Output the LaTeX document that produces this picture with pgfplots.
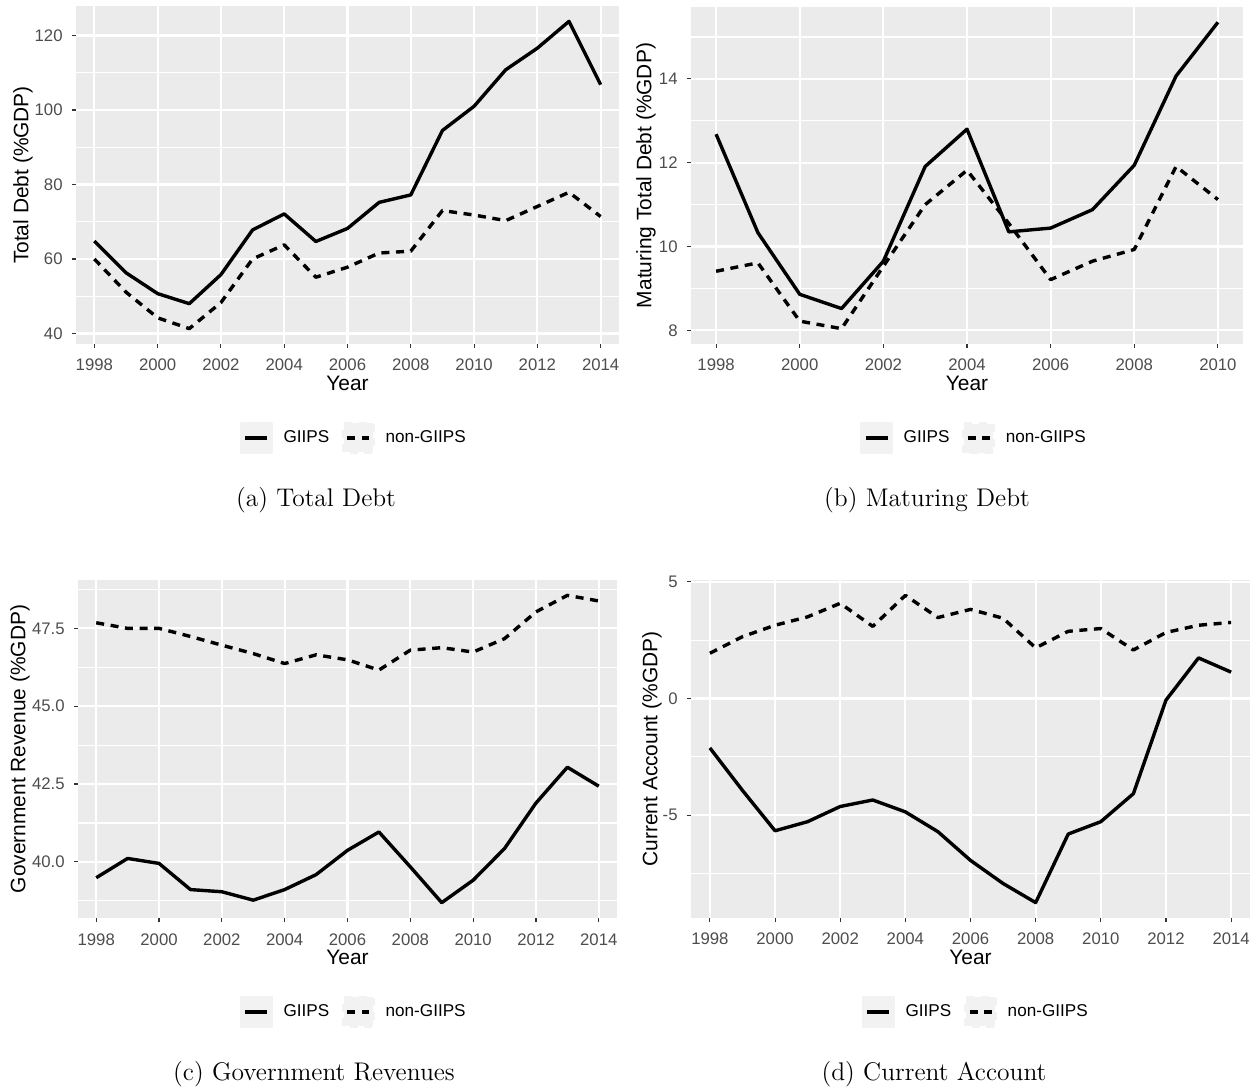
\documentclass[border=0pt]{standalone}
\usepackage{fontspec}
\newfontfamily\ggfont{Liberation Sans}
\usepackage{pgfplots}
\pgfplotsset{compat=1.18}
\definecolor{ggbg}{HTML}{EBEBEB}
\definecolor{ggtext}{HTML}{4D4D4D}
\definecolor{ggtick}{HTML}{333333}
\definecolor{ggkey}{HTML}{F2F2F2}
\pgfplotsset{
  ggstyle/.style={
    scale only axis,
    anchor=south west,
    axis background/.style={fill=ggbg},
    axis line style={draw=none},
    tick align=outside,
    tick pos=left,
    major tick length=2bp,
    minor tick length=0bp,
    every tick/.style={ggtick, line width=0.55bp},
    xmajorgrids, ymajorgrids, yminorgrids,
    major grid style={white, line width=1.1bp},
    minor grid style={white, line width=0.55bp},
    /pgf/number format/assume math mode=true,
    xticklabel style={font=\ggfont\fontsize{8.4}{10}\selectfont, text=ggtext, anchor=base, inner sep=0pt, yshift=-11.5bp},
    yticklabel style={font=\ggfont\fontsize{8.4}{10}\selectfont, text=ggtext, anchor=east, inner sep=0pt, xshift=-4.5bp},
    xlabel=Year,
    xlabel style={font=\ggfont\fontsize{10.5}{12}\selectfont, at={(axis description cs:0.5,0)}, anchor=base, yshift=-23.5bp, inner sep=0pt},
    ylabel style={font=\ggfont\fontsize{10.5}{12}\selectfont, anchor=center, inner sep=0pt},
    legend columns=2,
    legend image code/.code={
      \fill[ggkey] (0bp,-7.25bp) rectangle (14.5bp,7.25bp);
      \draw[##1] (1.75bp,0bp) -- (12.75bp,0bp);
    },
    legend style={draw=none, fill=none, anchor=center, inner sep=0pt,
      font=\ggfont\fontsize{8.6}{10}\selectfont, nodes={inner sep=0pt},
      /tikz/every odd column/.append style={column sep=5.5bp},
      /tikz/every even column/.append style={column sep=6.5bp}},
    legend entries={GIIPS,non-GIIPS},
  },
  giips/.style={black, line width=1.7bp, line join=round},
  nongiips/.style={black, line width=1.7bp, line join=round, dash pattern=on 4bp off 3.3bp},
}
\begin{document}
\begin{tikzpicture}
\path[use as bounding box] (0,0) rectangle (626bp,545bp);

% (a) Total Debt
\begin{axis}[ggstyle, at={(38bp,373bp)}, width=271.5bp, height=169bp,
  xmin=1997.42, xmax=2014.58, ymin=37.175, ymax=127.925,
  xtick={1998,2000,2002,2004,2006,2008,2010,2012,2014},
  xticklabels={1998,2000,2002,2004,2006,2008,2010,2012,2014},
  ytick={40,60,80,100,120}, yticklabels={40,60,80,100,120},
  minor ytick={50,70,90,110},
  ylabel={Total Debt (\%GDP)},
  ylabel style={at={(axis description cs:-0.0976,0.5)}},
  legend style={at={(axis description cs:0.510,-0.278)}}]
\addplot[giips] coordinates {(1998,64.8)(1999,56.3)(2000,50.7)(2001,48.0)(2002,55.8)(2003,67.8)(2004,72.1)(2005,64.7)(2006,68.2)(2007,75.2)(2008,77.2)(2009,94.5)(2010,101.0)(2011,110.8)(2012,116.6)(2013,123.8)(2014,106.8)};
\addplot[nongiips] coordinates {(1998,60.0)(1999,51.1)(2000,44.2)(2001,41.3)(2002,48.3)(2003,60.0)(2004,63.8)(2005,55.1)(2006,57.8)(2007,61.6)(2008,62.1)(2009,73.0)(2010,71.8)(2011,70.3)(2012,74.1)(2013,77.9)(2014,71.4)};
\end{axis}

% (b) Maturing Debt
\begin{axis}[ggstyle, at={(345.5bp,373bp)}, width=276bp, height=168.5bp,
  xmin=1997.4, xmax=2010.6, ymin=7.6745, ymax=15.7155,
  xtick={1998,2000,2002,2004,2006,2008,2010},
  xticklabels={1998,2000,2002,2004,2006,2008,2010},
  ytick={8,10,12,14}, yticklabels={8,10,12,14},
  minor ytick={9,11,13,15},
  ylabel={Maturing Total Debt (\%GDP)},
  ylabel style={at={(axis description cs:-0.0815,0.5)}},
  legend style={at={(axis description cs:0.511,-0.279)}}]
\addplot[giips] coordinates {(1998,12.68)(1999,10.33)(2000,8.86)(2001,8.52)(2002,9.65)(2003,11.91)(2004,12.80)(2005,10.35)(2006,10.44)(2007,10.88)(2008,11.94)(2009,14.07)(2010,15.35)};
\addplot[nongiips] coordinates {(1998,9.41)(1999,9.61)(2000,8.22)(2001,8.04)(2002,9.53)(2003,11.0)(2004,11.82)(2005,10.55)(2006,9.21)(2007,9.65)(2008,9.93)(2009,11.91)(2010,11.12)};
\end{axis}

% (c) Government Revenues
\begin{axis}[ggstyle, at={(39bp,86bp)}, width=269.5bp, height=169bp,
  xmin=1997.42, xmax=2014.58, ymin=38.197, ymax=49.054,
  xtick={1998,2000,2002,2004,2006,2008,2010,2012,2014},
  xticklabels={1998,2000,2002,2004,2006,2008,2010,2012,2014},
  ytick={40,42.5,45,47.5}, yticklabels={40.0,42.5,45.0,47.5},
  minor ytick={38.75,41.25,43.75,46.25,48.75},
  ylabel={Government Revenue (\%GDP)},
  ylabel style={at={(axis description cs:-0.1076,0.5)}},
  legend style={at={(axis description cs:0.510,-0.278)}}]
\addplot[giips] coordinates {(1998,39.49)(1999,40.11)(2000,39.95)(2001,39.11)(2002,39.04)(2003,38.77)(2004,39.11)(2005,39.59)(2006,40.37)(2007,40.96)(2008,39.84)(2009,38.69)(2010,39.41)(2011,40.43)(2012,41.89)(2013,43.04)(2014,42.43)};
\addplot[nongiips] coordinates {(1998,47.68)(1999,47.50)(2000,47.50)(2001,47.24)(2002,46.96)(2003,46.69)(2004,46.37)(2005,46.65)(2006,46.49)(2007,46.16)(2008,46.80)(2009,46.88)(2010,46.74)(2011,47.17)(2012,48.03)(2013,48.56)(2014,48.38)};
\end{axis}

% (d) Current Account
\begin{axis}[ggstyle, at={(345.5bp,86bp)}, width=279.5bp, height=169bp,
  xmin=1997.42, xmax=2014.58, ymin=-9.409, ymax=5.079,
  xtick={1998,2000,2002,2004,2006,2008,2010,2012,2014},
  xticklabels={1998,2000,2002,2004,2006,2008,2010,2012,2014},
  ytick={-5,0,5}, yticklabels={-5,0,5},
  minor ytick={-7.5,-2.5,2.5},
  ylabel={Current Account (\%GDP)},
  ylabel style={at={(axis description cs:-0.0698,0.5)}},
  legend style={at={(axis description cs:0.508,-0.278)}}]
\addplot[giips] coordinates {(1998,-2.12)(1999,-3.94)(2000,-5.67)(2001,-5.28)(2002,-4.63)(2003,-4.35)(2004,-4.86)(2005,-5.71)(2006,-6.94)(2007,-7.93)(2008,-8.75)(2009,-5.81)(2010,-5.28)(2011,-4.08)(2012,-0.07)(2013,1.74)(2014,1.13)};
\addplot[nongiips] coordinates {(1998,1.94)(1999,2.65)(2000,3.14)(2001,3.50)(2002,4.08)(2003,3.09)(2004,4.42)(2005,3.47)(2006,3.82)(2007,3.44)(2008,2.17)(2009,2.88)(2010,3.00)(2011,2.08)(2012,2.83)(2013,3.14)(2014,3.26)};
\end{axis}

\node[font=\fontsize{12.8}{15}\selectfont, anchor=base] at (158bp,291.5bp) {(a) Total Debt};
\node[font=\fontsize{12.8}{15}\selectfont, anchor=base] at (463.5bp,291.5bp) {(b) Maturing Debt};
\node[font=\fontsize{12.8}{15}\selectfont, anchor=base] at (157bp,4.7bp) {(c) Government Revenues};
\node[font=\fontsize{12.8}{15}\selectfont, anchor=base] at (467bp,4.7bp) {(d) Current Account};
\end{tikzpicture}
\end{document}
